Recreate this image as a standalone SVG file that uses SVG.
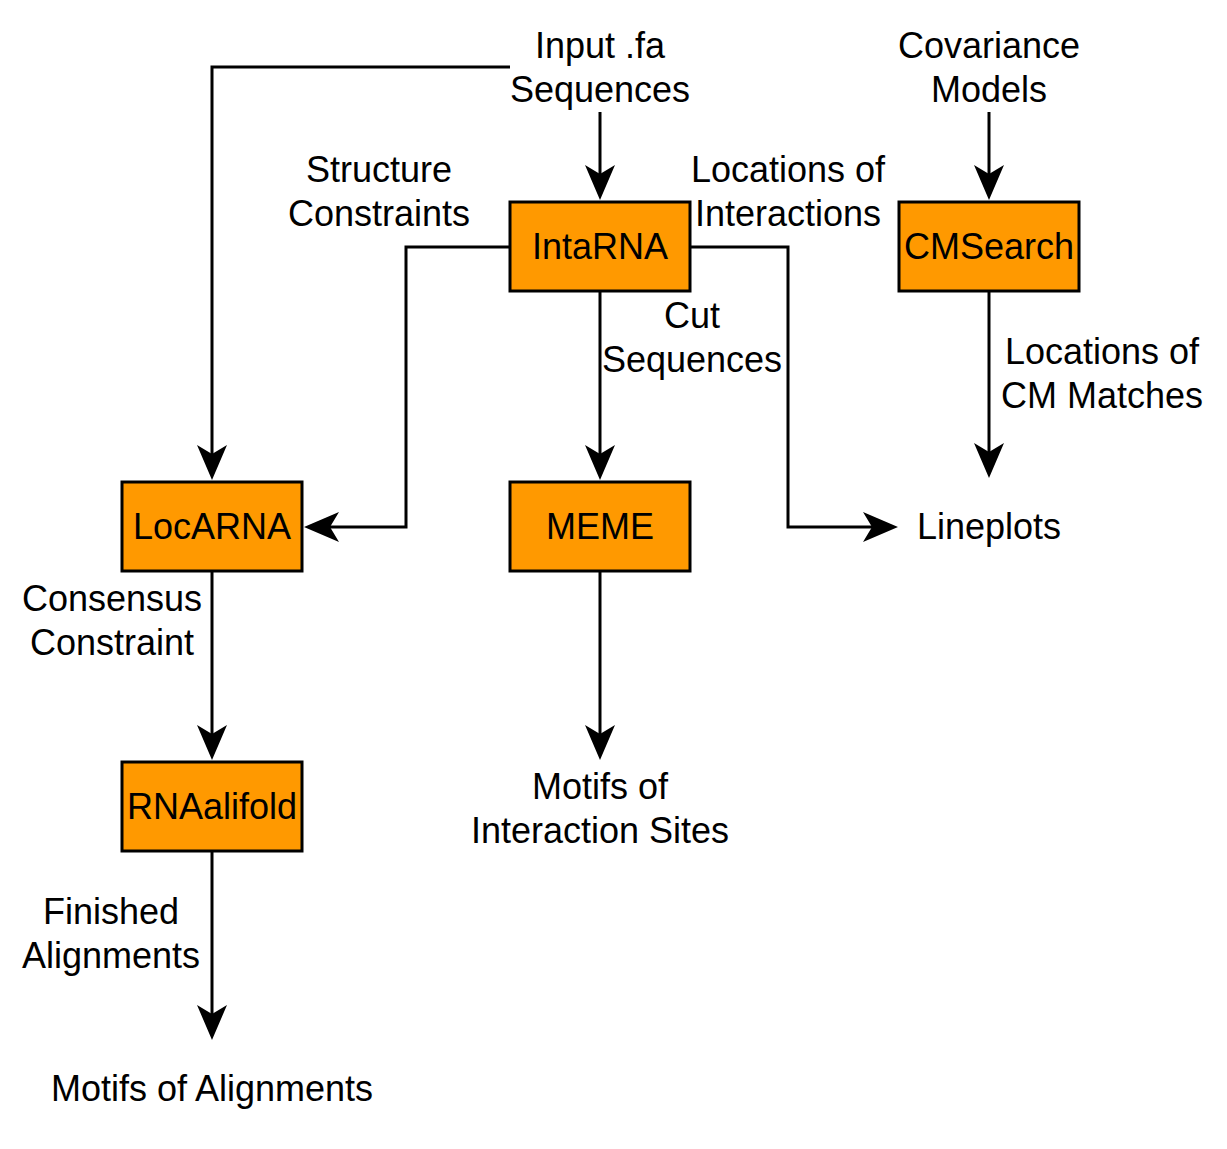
<svg xmlns="http://www.w3.org/2000/svg" width="1227" height="1149" viewBox="0 0 1227 1149">
<style>
.box{fill:#FF9900;stroke:#000;stroke-width:3}
.t{font-family:"Liberation Sans",Arial,sans-serif;font-size:36px;fill:#000;text-anchor:middle}
.c{fill:none;stroke:#000;stroke-width:3}
</style>
<defs>
<marker id="arr" markerUnits="userSpaceOnUse" markerWidth="36" markerHeight="30" viewBox="0 0 36 30" refX="9" refY="15" orient="auto">
<path d="M0,0 L35,15 L0,30 L9,15 Z" fill="#000"/>
</marker>
</defs>
<rect width="1227" height="1149" fill="#fff"/>
<g id="connectors">
<path class="c" d="M600,112 V174" marker-end="url(#arr)"/>
<path class="c" d="M510,67 H212 V454" marker-end="url(#arr)"/>
<path class="c" d="M510,247 H406 V527 H330" marker-end="url(#arr)"/>
<path class="c" d="M690,247 H788 V527 H872" marker-end="url(#arr)"/>
<path class="c" d="M600,291 V454" marker-end="url(#arr)"/>
<path class="c" d="M989,112 V174" marker-end="url(#arr)"/>
<path class="c" d="M989,291 V452" marker-end="url(#arr)"/>
<path class="c" d="M212,571 V734" marker-end="url(#arr)"/>
<path class="c" d="M600,571 V734" marker-end="url(#arr)"/>
<path class="c" d="M212,851 V1014" marker-end="url(#arr)"/>
</g>
<g id="intarna"><rect class="box" x="510" y="202" width="180" height="89"/><text class="t" x="600" y="259">IntaRNA</text></g>
<g id="cmsearch"><rect class="box" x="899" y="202" width="180" height="89"/><text class="t" x="989" y="259">CMSearch</text></g>
<g id="locarna"><rect class="box" x="122" y="482" width="180" height="89"/><text class="t" x="212" y="539">LocARNA</text></g>
<g id="meme"><rect class="box" x="510" y="482" width="180" height="89"/><text class="t" x="600" y="539">MEME</text></g>
<g id="rnaalifold"><rect class="box" x="122" y="762" width="180" height="89"/><text class="t" x="212" y="819">RNAalifold</text></g>
<g id="input"><text class="t" x="600" y="58">Input .fa</text><text class="t" x="600" y="102">Sequences</text></g>
<g id="covariance"><text class="t" x="989" y="58">Covariance</text><text class="t" x="989" y="102">Models</text></g>
<g id="lineplots"><text class="t" x="989" y="539">Lineplots</text></g>
<g id="motifs-interaction"><text class="t" x="600" y="799">Motifs of</text><text class="t" x="600" y="843">Interaction Sites</text></g>
<g id="motifs-alignments"><text class="t" x="212" y="1101">Motifs of Alignments</text></g>
<g id="labels">
<text class="t" x="379" y="182">Structure</text><text class="t" x="379" y="226">Constraints</text>
<text class="t" x="788" y="182">Locations of</text><text class="t" x="788" y="226">Interactions</text>
<text class="t" x="692" y="328">Cut</text><text class="t" x="692" y="372">Sequences</text>
<text class="t" x="1102" y="364">Locations of</text><text class="t" x="1102" y="408">CM Matches</text>
<text class="t" x="112" y="611">Consensus</text><text class="t" x="112" y="655">Constraint</text>
<text class="t" x="111" y="924">Finished</text><text class="t" x="111" y="968">Alignments</text>
</g>
</svg>
